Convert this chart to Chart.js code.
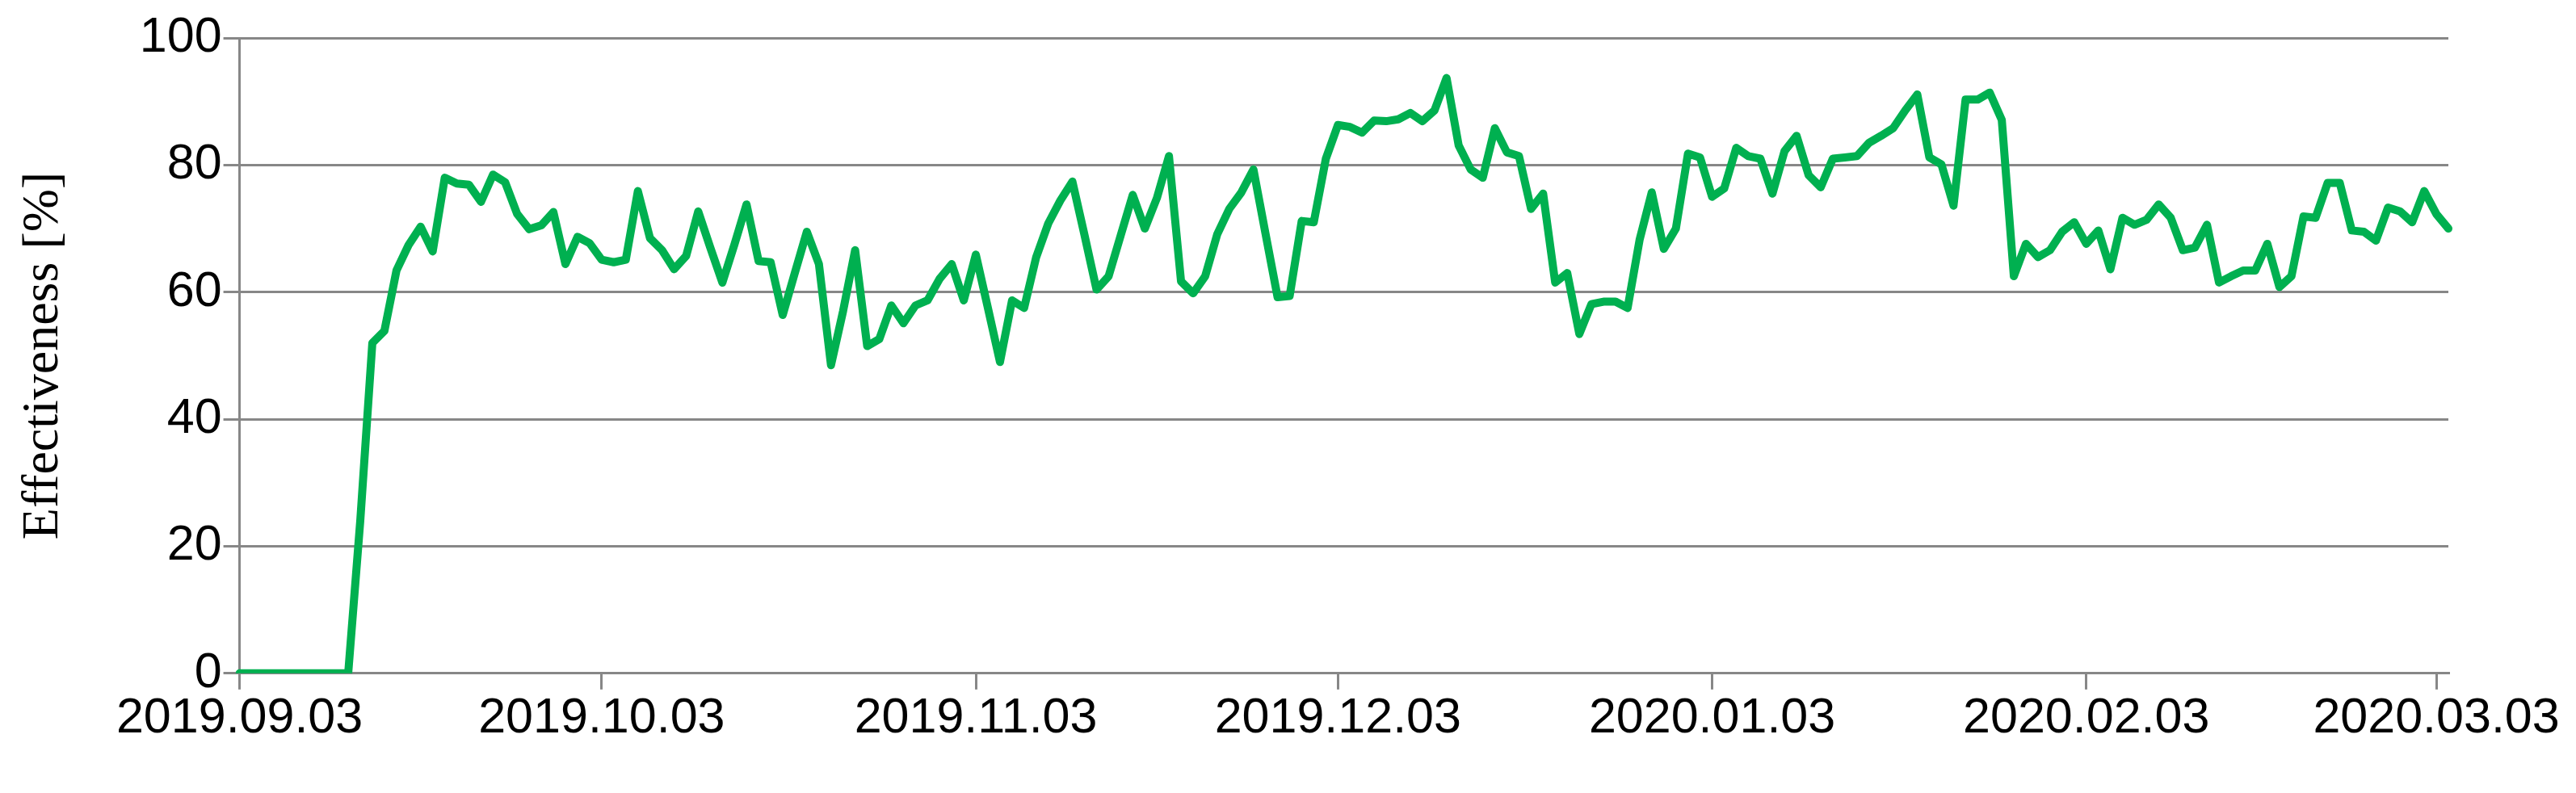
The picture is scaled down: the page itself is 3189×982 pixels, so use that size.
<!DOCTYPE html>
<html lang="en">
<head>
    <meta charset="UTF-8">
    <title>Effectiveness</title>
    <script src="https://cdn.jsdelivr.net/npm/chart.js"></script>
    <style>
        body { margin: 0; background: #fff; }
    </style>
</head>
<body>
    <canvas id="myChart" width="3189" height="982"></canvas>

    <script>
        // daily effectiveness, one value per day from 2019.09.03
        const startDate = '2019-09-03';
        const effectiveness = [
            0, 0, 0, 0, 0, 0, 0, 0, 0, 0,
            24, 52.0, 53.9, 63.4, 67.4, 70.3, 66.4, 78.0, 77.1, 76.9,
            74.2, 78.5, 77.3, 72.3, 69.9, 70.5, 72.6, 64.4, 68.7, 67.7,
            65.1, 64.7, 65.1, 75.9, 68.5, 66.6, 63.6, 65.7, 72.7, 67.0,
            61.5, 67.5, 73.8, 64.9, 64.7, 56.4, 63.0, 69.5, 64.4, 48.5,
            57.0, 66.6, 51.5, 52.6, 57.9, 55.1, 57.9, 58.7, 62.1, 64.4,
            58.7, 65.9, 57.5, 49.0, 58.7, 57.5, 65.5, 70.8, 74.4, 77.4,
            69.0, 60.4, 62.5, 68.9, 75.3, 70.0, 74.8, 81.4, 61.7, 59.8,
            62.5, 69.1, 73.1, 75.7, 79.3, 69.2, 59.2, 59.4, 71.2, 71.0,
            81.0, 86.3, 86.0, 85.1, 87.0, 86.9, 87.2, 88.2, 86.9, 88.6,
            93.7, 83.1, 79.3, 78.0, 85.8, 82.0, 81.4, 73.1, 75.5, 61.5,
            63.0, 53.4, 58.1, 58.5, 58.5, 57.5, 68.3, 75.7, 66.8, 70.0,
            81.8, 81.2, 75.0, 76.3, 82.7, 81.4, 81.0, 75.5, 82.2, 84.6,
            78.4, 76.5, 81.0, 81.2, 81.4, 83.5, 84.6, 85.8, 88.6, 91.1,
            81.2, 80.1, 73.6, 90.3, 90.3, 91.4, 87.1, 62.5, 67.6, 65.5,
            66.6, 69.5, 71.0, 67.6, 69.7, 63.6, 71.7, 70.6, 71.4, 73.8,
            71.7, 66.6, 67.0, 70.6, 61.5, 62.5, 63.4, 63.4, 67.6, 60.8,
            62.5, 71.9, 71.7, 77.2, 77.2, 69.7, 69.5, 68.1, 73.3, 72.7,
            71.0, 75.9, 72.3, 70.0
        ];
        const tickLabels = ['2019.09.03', '2019.10.03', '2019.11.03', '2019.12.03',
                            '2020.01.03', '2020.02.03', '2020.03.03'];

        // one label per value, written like the axis: yyyy.mm.dd
        const labels = [];
        const d = new Date(startDate + 'T00:00:00');
        for (let i = 0; i < effectiveness.length; i++) {
            const mm = String(d.getMonth() + 1).padStart(2, '0');
            const dd = String(d.getDate()).padStart(2, '0');
            labels.push(d.getFullYear() + '.' + mm + '.' + dd);
            d.setDate(d.getDate() + 1);
        }

        const gridGray = '#878787';
        const ctx = document.getElementById('myChart').getContext('2d');
        const myChart = new Chart(ctx, {
            type: 'line',
            data: {
                labels: labels,
                datasets: [{
                    label: 'Effectiveness',
                    borderColor: '#00b050',
                    backgroundColor: '#00b050',
                    borderWidth: 10,
                    borderJoinStyle: 'round',
                    borderCapStyle: 'round',
                    pointRadius: 0,
                    tension: 0,
                    data: effectiveness
                }]
            },
            options: {
                responsive: false,
                animation: false,
                devicePixelRatio: 1,
                layout: { padding: { left: 0, right: 158, top: 47, bottom: 55 } },
                plugins: {
                    legend: { display: false },
                    tooltip: { enabled: false }
                },
                scales: {
                    x: {
                        grid: { drawOnChartArea: false, color: gridGray, lineWidth: 3, tickLength: 20 },
                        border: { color: gridGray, width: 3 },
                        ticks: {
                            autoSkip: false,
                            maxRotation: 0,
                            padding: 0,
                            color: '#000',
                            font: { family: 'Liberation Sans', size: 61 },
                            callback: function (value, index) {
                                const l = labels[index];
                                return tickLabels.includes(l) ? l : null;
                            }
                        }
                    },
                    y: {
                        min: 0,
                        max: 100,
                        grid: { color: gridGray, lineWidth: 3, tickLength: 20 },
                        border: { color: gridGray, width: 3 },
                        ticks: {
                            stepSize: 20,
                            padding: 2,
                            color: '#000',
                            font: { family: 'Liberation Sans', size: 61 }
                        },
                        title: {
                            display: true,
                            text: 'Effectiveness [%]',
                            color: '#000',
                            padding: { top: 16, bottom: 78 },
                            font: { family: 'Liberation Serif', size: 64 }
                        }
                    }
                }
            }
        });
    </script>
</body>
</html>
